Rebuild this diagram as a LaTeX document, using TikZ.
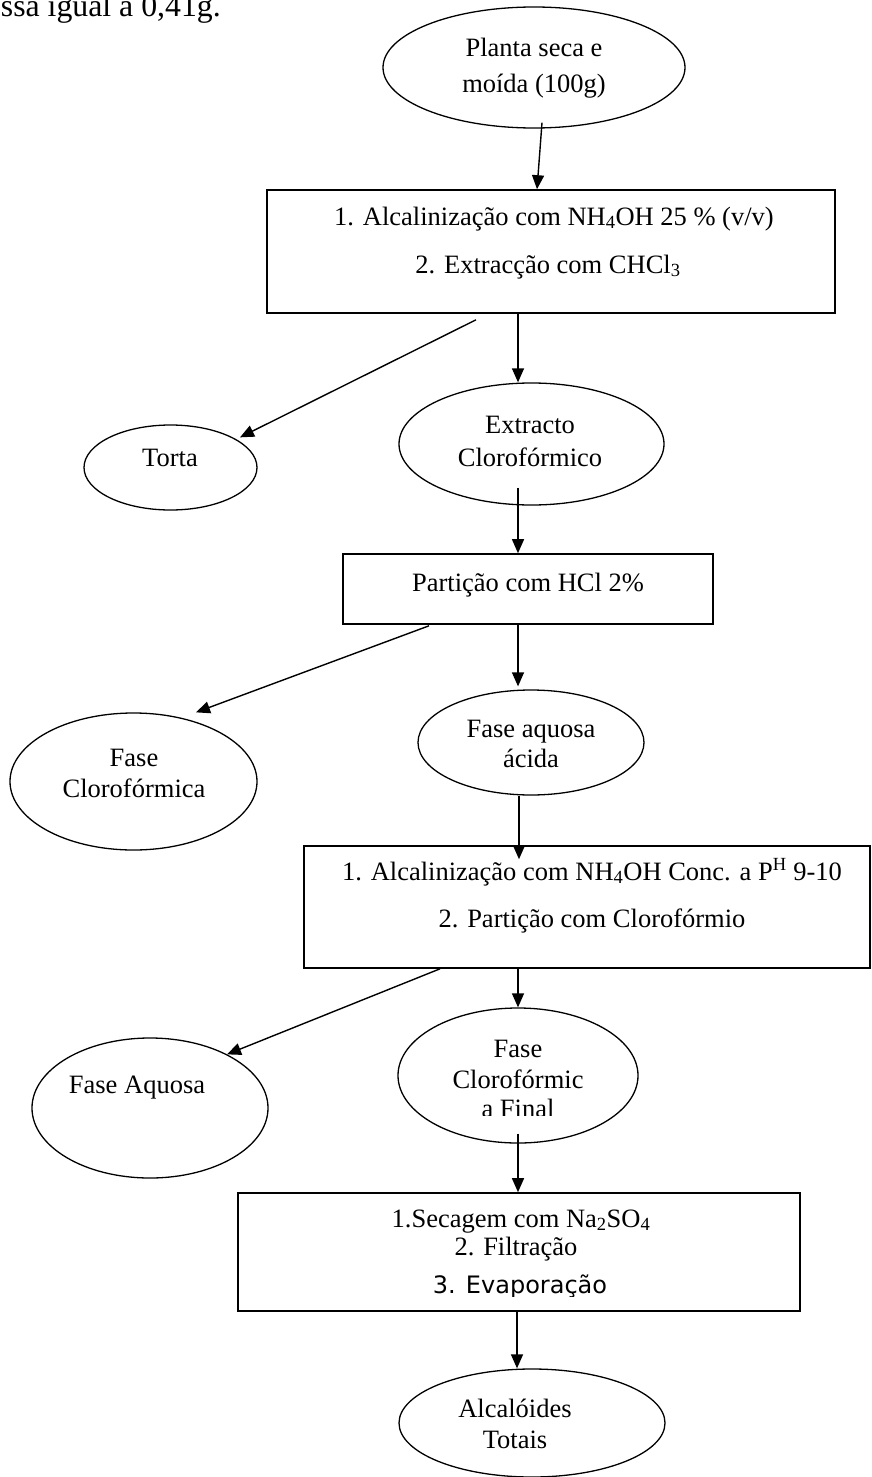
\documentclass[tikz,border=0pt]{standalone}
\usepackage{fontspec}
\setmainfont{Liberation Serif}
\newfontfamily\evapfont{DejaVu Sans}
\usetikzlibrary{arrows.meta,shapes.geometric}
\begin{document}
\begin{tikzpicture}[x=1pt,y=-1pt,
  ell/.style={draw, ellipse, line width=1.3pt, inner sep=0pt},
  box/.style={draw, rectangle, line width=1.6pt, inner sep=0pt},
  txt/.style={anchor=base, inner sep=0pt, font=\fontsize{26.5}{30}\selectfont},
  arr/.style={line width=1.4pt, -{Triangle[length=14pt,width=12pt]}},
]
\useasboundingbox (0,0) rectangle (871,1477);

% top text (cut off at the page edge)
\node[anchor=base east, inner sep=0pt, font=\fontsize{31.8}{36}\selectfont] (top) at (221,17) {ssa igual a 0,41g.};

% nodes
\node[ell, minimum width=302, minimum height=121] (e1) at (534,67.5) {};
\node[txt] (e1a) at (534,57) {Planta seca e};
\node[txt] (e1b) at (534,93) {moída (100g)};

\node[box, minimum width=568, minimum height=123] (b1) at (551,251.5) {};
\node[txt] (b1a) at (554,225) {1. Alcalinização com NH\textsubscript{4}OH 25 \% (v/v)};
\node[txt] (b1b) at (548,273) {2. Extracção com CHCl\textsubscript{3}};

\node[ell, minimum width=173, minimum height=85] (torta) at (170.5,467.5) {};
\node[txt] (tortat) at (170,466) {Torta};

\node[ell, minimum width=265, minimum height=122] (ext) at (531.5,444) {};
\node[txt] (exta) at (530,433) {Extracto};
\node[txt] (extb) at (530,466) {Clorofórmico};

\node[box, minimum width=370, minimum height=70] (b2) at (528,589) {};
\node[txt] (b2a) at (528,591) {Partição com HCl 2\%};

\node[ell, minimum width=247, minimum height=137] (fcl) at (133.5,781.5) {};
\node[txt] (fcla) at (134,766) {Fase};
\node[txt] (fclb) at (134,797) {Clorofórmica};

\node[ell, minimum width=226, minimum height=105] (faq) at (531,742.5) {};
\node[txt] (faqa) at (531,737) {Fase aquosa};
\node[txt] (faqb) at (531,767) {ácida};

\node[box, minimum width=566, minimum height=122] (b3) at (587,907) {};
\node[txt] (b3a) at (592,880) {1. Alcalinização com NH\textsubscript{4}OH Conc. a P\textsuperscript{H} 9-10};
\node[txt] (b3b) at (592,927) {2. Partição com Clorofórmio};

\node[ell, minimum width=236, minimum height=140] (fa) at (150,1108) {};
\node[txt] (fat) at (137,1093) {Fase Aquosa};

\node[ell, minimum width=240, minimum height=135] (ff) at (518,1075.5) {};
\node[txt] (ffa) at (518,1057) {Fase};
\node[txt] (ffb) at (518,1088) {Clorofórmic};
\begin{scope}
\clip (0,0) rectangle (871,1115.5);
\node[txt] (ffc) at (518,1117) {a Final};
\end{scope}

\node[box, minimum width=562, minimum height=118] (b4) at (519,1252) {};
\node[txt] (b4a) at (521,1227) {1.Secagem com Na\textsubscript{2}SO\textsubscript{4}};
\node[txt] (b4b) at (516,1255) {2. Filtração};
\begin{scope}
\clip (0,0) rectangle (871,1296);
\node[anchor=base, inner sep=0pt, font=\fontsize{24}{28}\evapfont] (b4c) at (520,1293) {3. Evaporação};
\end{scope}

\node[ell, minimum width=266, minimum height=108] (fin) at (532,1423) {};
\node[txt] (fina) at (515,1417) {Alcalóides};
\node[txt] (finb) at (515,1448) {Totais};

% connectors
\draw[arr] ([xshift=8pt,yshift=6pt]e1.south) -- ([xshift=-14pt]b1.north);
\draw[arr] ([xshift=-33pt]b1.south) -- ([xshift=-13.5pt]ext.north);
\draw[arr] ([xshift=-75pt,yshift=-6pt]b1.south) -- ([xshift=69.5pt,yshift=-13pt]torta.north);
\draw[arr] ([xshift=-13.5pt,yshift=18pt]ext.south) -- ([xshift=-10pt]b2.north);
\draw[arr] ([xshift=-10pt]b2.south) -- ([xshift=-13pt,yshift=3pt]faq.north);
\draw[arr] ([xshift=-99pt,yshift=-1pt]b2.south) -- ([xshift=62.5pt]fcl.north);
\draw[arr] ([xshift=-12pt]faq.south) -- ([xshift=-68pt,yshift=-14pt]b3.north);
\draw[arr] ([xshift=-69pt]b3.south) -- (ff.north);
\draw[arr] ([xshift=-147pt]b3.south) -- ([xshift=77pt,yshift=-17pt]fa.north);
\draw[arr] ([yshift=10pt]ff.south) -- ([xshift=-1pt]b4.north);
\draw[arr] ([xshift=-2pt]b4.south) -- ([xshift=-15pt]fin.north);
\end{tikzpicture}
\end{document}
